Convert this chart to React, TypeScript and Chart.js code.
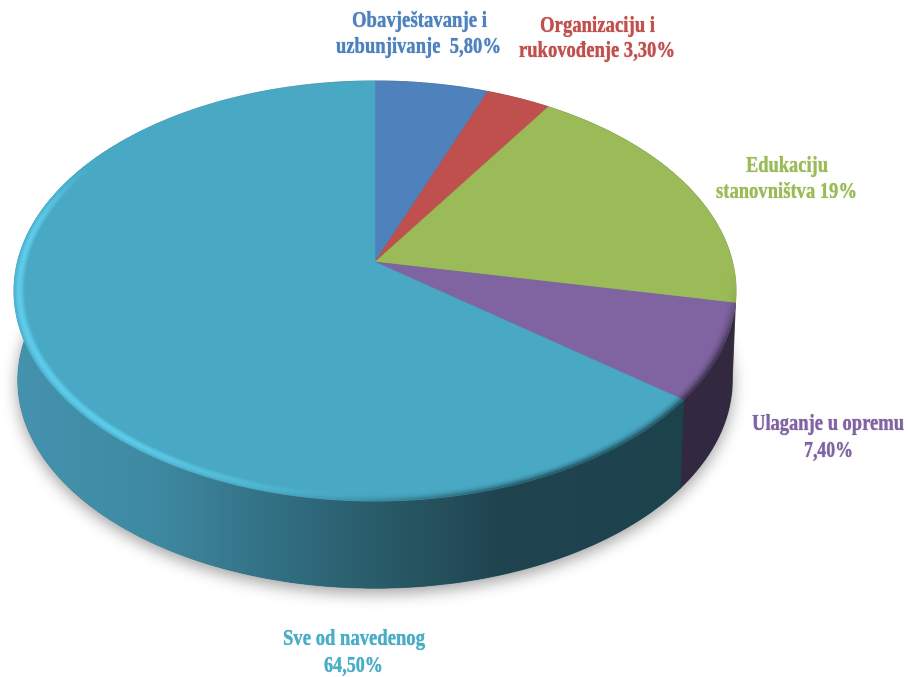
import React, { useEffect, useRef } from "react";
import { Chart, registerables } from "chart.js";

Chart.register(...registerables);

const categories = ["Obavještavanje i uzbunjivanje", "Organizaciju i rukovođenje", "Edukaciju stanovništva", "Ulaganje u opremu", "Sve od navedenog"];
const shares = [5.8, 3.3, 19, 7.4, 64.5];
const faceColors = ["#4f81bd", "#c0504d", "#9bbb59", "#8064a2", "#49a9c4"];
const labelColors = ["#4f81bd", "#c0504d", "#9bbb59", "#8064a2", "#4bacc6"];
const wallColors = ["#2c4a6e", "#6e2e2c", "#5a6e2e", "#32283f", "#1d434e"];
const labelLines = [
  ["Obavještavanje i", "uzbunjivanje  5,80%"],
  ["Organizaciju i", "rukovođenje 3,30%"],
  ["Edukaciju", "stanovništva 19%"],
  ["Ulaganje u opremu", "7,40%"],
  ["Sve od navedenog", "64,50%"],
];
// [left, right, baseline] of each label line
const labelBoxes = [
  [[352, 487, 27], [336, 501, 53]],
  [[540, 655, 32], [519, 675, 57]],
  [[746, 828, 172], [716, 857, 198]],
  [[752, 904, 430], [804, 853, 457]],
  [[283, 425, 645], [324, 383, 672]],
];
const tealWallStops: [number, string][] = [
  [0, "#4492ae"], [0.2, "#3e8aa3"], [0.28, "#3a7f96"], [0.43, "#2f6a7d"], [0.58, "#275763"], [0.73, "#1f4450"], [1, "#1c424c"],
];

const CX = 375, CY = 262, A = 206, B = 357.5, K = 0.138, DEPTH = 90, WALL_SCALE = 0.99;

function project(theta: number, r: number): [number, number] {
  const u = Math.sin(theta), v = -Math.cos(theta);
  const den = 1 - K * v * r;
  return [CX + (B * r * u) / den, CY + (A * r * v) / den];
}
function hexRgb(h: string) {
  return [parseInt(h.slice(1, 3), 16), parseInt(h.slice(3, 5), 16), parseInt(h.slice(5, 7), 16)];
}
function mix(a: number[], b: number[], t: number) {
  return a.map((x, i) => x + (b[i] - x) * t);
}
function css(c: number[]) {
  return `rgb(${c.map((x) => Math.round(x)).join(",")})`;
}
function smooth(e0: number, e1: number, x: number) {
  const t = Math.min(1, Math.max(0, (x - e0) / (e1 - e0)));
  return t * t * (3 - 2 * t);
}

const pie3d = {
  id: "pie3d",
  beforeDatasetsDraw(chart: any) {
    const ctx: CanvasRenderingContext2D = chart.ctx;
    const arcs = chart.getDatasetMeta(0).data;
    const range = (a: any) => [a.startAngle + Math.PI / 2, a.endAngle + Math.PI / 2];
    const STEP = Math.PI / 180;
    const rimPoints = (s: number, e: number, r: number) => {
      const pts: [number, number][] = [];
      const n = Math.max(2, Math.ceil((e - s) / STEP));
      for (let i = 0; i <= n; i++) pts.push(project(s + ((e - s) * i) / n, r));
      return pts;
    };

    ctx.save();
    // soft shadow below the drum
    ctx.save();
    ctx.shadowColor = "rgba(0,0,0,0.38)";
    ctx.shadowBlur = 16;
    ctx.shadowOffsetY = 5;
    ctx.fillStyle = "#1d434e";
    ctx.beginPath();
    rimPoints(0, Math.PI * 2, WALL_SCALE).forEach(([x, y], i) => (i ? ctx.lineTo(x, y + DEPTH) : ctx.moveTo(x, y + DEPTH)));
    ctx.closePath();
    ctx.fill();
    ctx.restore();

    // side walls
    arcs.forEach((arc: any, i: number) => {
      const [s, e] = range(arc);
      const top = rimPoints(s, e, 1);
      const bottom = rimPoints(s, e, WALL_SCALE).map(([x, y]) => [x, y + DEPTH]);
      let fill: string | CanvasGradient = wallColors[i];
      if (i === shares.length - 1) {
        const g = ctx.createLinearGradient(14, 0, 680, 0);
        tealWallStops.forEach(([o, c]) => g.addColorStop(o, c));
        fill = g;
      }
      ctx.fillStyle = fill;
      ctx.strokeStyle = fill;
      ctx.lineWidth = 0.6;
      ctx.beginPath();
      top.forEach(([x, y], j) => (j ? ctx.lineTo(x, y) : ctx.moveTo(x, y)));
      bottom.reverse().forEach(([x, y]) => ctx.lineTo(x, y));
      ctx.closePath();
      ctx.fill();
      ctx.stroke();
    });

    // top faces
    arcs.forEach((arc: any, i: number) => {
      const [s, e] = range(arc);
      ctx.fillStyle = faceColors[i];
      ctx.strokeStyle = faceColors[i];
      ctx.lineWidth = 0.6;
      ctx.beginPath();
      ctx.moveTo(CX, CY);
      rimPoints(s, e, 1).forEach(([x, y]) => ctx.lineTo(x, y));
      ctx.closePath();
      ctx.fill();
      ctx.stroke();
    });

    // bevel band along the near rim
    const RINGS = 8;
    const inner = 0.972;
    arcs.forEach((arc: any, i: number) => {
      const [s, e] = range(arc);
      const face = hexRgb(faceColors[i]);
      const light = [96, 205, 236];
      const dark = hexRgb(wallColors[i]);
      const n = Math.ceil((e - s) / STEP);
      for (let j = 0; j < n; j++) {
        const t0 = s + ((e - s) * j) / n, t1 = s + ((e - s) * (j + 1)) / n;
        const deg = ((t0 + t1) / 2) * (180 / Math.PI);
        const lit = smooth(178, 222, deg) * (1 - smooth(278, 305, deg));
        const shade = smooth(92, 118, deg) * (1 - smooth(150, 200, deg));
        if (lit <= 0 && shade <= 0) continue;
        for (let k = 0; k < RINGS; k++) {
          const r0 = inner + ((1 - inner) * k) / RINGS;
          const r1 = inner + ((1 - inner) * (k + 1)) / RINGS;
          const f = (k + 0.5) / RINGS;
          const profile = Math.sin(Math.PI * Math.min(1, f * 0.95));
          const col = css(mix(mix(face, light, lit * profile), dark, shade * f * f * 0.9));
          const a = project(t0, r0), b = project(t1, r0), c = project(t1, r1), d = project(t0, r1);
          ctx.fillStyle = col;
          ctx.strokeStyle = col;
          ctx.lineWidth = 0.5;
          ctx.beginPath();
          ctx.moveTo(a[0], a[1]);
          ctx.lineTo(b[0], b[1]);
          ctx.lineTo(c[0], c[1]);
          ctx.lineTo(d[0], d[1]);
          ctx.closePath();
          ctx.fill();
          ctx.stroke();
        }
      }
    });
    ctx.restore();

    // labels
    ctx.save();
    ctx.font = 'bold 22.5px "Liberation Serif", serif';
    ctx.textAlign = "left";
    ctx.textBaseline = "alphabetic";
    labelLines.forEach((lines, i) => {
      ctx.fillStyle = labelColors[i];
      ctx.shadowColor = labelColors[i];
      ctx.shadowBlur = 1;
      lines.forEach((line, j) => {
        const [l, r, y] = labelBoxes[i][j];
        ctx.fillText(line, l, y, r - l);
      });
    });
    ctx.restore();
    return false;
  },
};

export default function App() {
  const ref = useRef<HTMLCanvasElement>(null);
  useEffect(() => {
    const chart = new Chart(ref.current!, {
      type: "pie",
      data: {
        labels: categories,
        datasets: [{ data: shares, backgroundColor: faceColors, borderWidth: 0 }],
      },
      options: {
        animation: false,
        responsive: false,
        plugins: { legend: { display: false }, tooltip: { enabled: false } },
      },
      plugins: [pie3d],
    } as any);
    return () => chart.destroy();
  }, []);
  return (
    <canvas
      ref={ref}
      width={909}
      height={677}
      style={{ position: "absolute", left: 0, top: 0, width: 909, height: 677, background: "#fff" }}
    />
  );
}
